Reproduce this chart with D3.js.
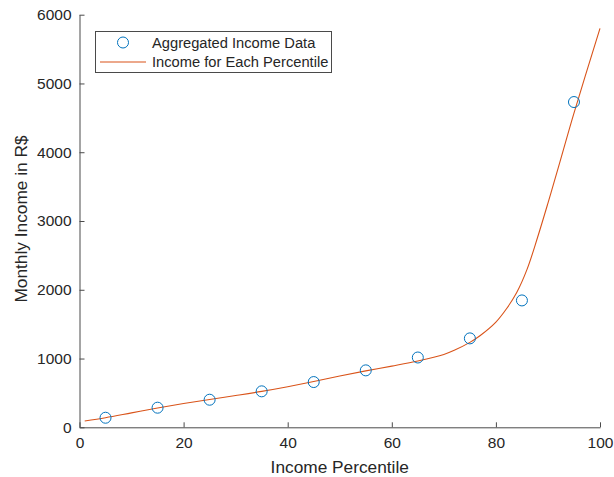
<!DOCTYPE html>
<html>
<head>
  <meta charset="utf-8">
  <script src="https://cdn.jsdelivr.net/npm/d3@7"></script>
  <style>
    body { margin: 0; background: #fff; }
    text { font-family: "Liberation Sans", Arial, sans-serif; fill: #262626; }
  </style>
</head>
<body>
<script>
  "use strict";

  // aggregated data (circles)
  var pctAgg = [5, 15, 25, 35, 45, 55, 65, 75, 85, 95];
  var incAgg = [139, 285, 401, 523, 658, 828, 1015, 1293, 1845, 4730];

  // fitted curve
  var pctFit = [1, 5, 10, 15, 20, 25, 30, 35, 40, 45, 50, 55, 60, 65, 70, 72, 75, 77, 80, 82, 84, 86, 88, 90, 92, 95, 100];
  var incFit = [92, 140, 210, 280, 345, 405, 462, 522, 590, 665, 745, 820, 890, 965, 1060, 1120, 1235, 1335, 1530, 1720, 1960, 2300, 2760, 3260, 3780, 4570, 5800];

  var xTicks = [0, 20, 40, 60, 80, 100];
  var yTicks = [0, 1000, 2000, 3000, 4000, 5000, 6000];

  var W = 614, H = 477;
  var plotL = 79.5, plotR = 600, plotT = 14.7, plotB = 427.3;

  var svg = d3.select("body").append("svg")
      .attr("width", W)
      .attr("height", H);

  var x = d3.scaleLinear().domain([0, 100]).range([plotL, plotR]);
  var y = d3.scaleLinear().domain([0, 6000]).range([plotB, plotT]);

  var axisColor = "#4a4a4a";

  // axes, ticks inside (MATLAB style, box off)
  var gx = svg.append("g").attr("transform", "translate(0," + plotB + ")")
      .call(d3.axisBottom(x).tickValues(xTicks).tickFormat(d3.format("d"))
        .tickSizeInner(-5).tickSizeOuter(0).tickPadding(10));
  var gy = svg.append("g").attr("transform", "translate(" + plotL + ",0)")
      .call(d3.axisLeft(y).tickValues(yTicks).tickFormat(d3.format("d"))
        .tickSizeInner(-5).tickSizeOuter(0).tickPadding(8));

  [gx, gy].forEach(function(g) {
    g.select(".domain").attr("stroke", axisColor);
    g.selectAll(".tick line").attr("stroke", axisColor);
    g.selectAll(".tick text").style("font-size", "15.5px").attr("fill", "#262626");
  });

  svg.append("text")
      .attr("x", (plotL + plotR) / 2).attr("y", 473)
      .attr("text-anchor", "middle")
      .style("font-size", "17.3px")
      .text("Income Percentile");

  svg.append("text")
      .attr("transform", "translate(26.5," + ((plotT + plotB) / 2 - 2) + ") rotate(-90)")
      .attr("text-anchor", "middle")
      .style("font-size", "17.3px")
      .text("Monthly Income in R$");

  var fit = pctFit.map(function(p, i) { return [p, incFit[i]]; });

  var line = d3.line()
      .x(function(d) { return x(d[0]); })
      .y(function(d) { return y(d[1]); })
      .curve(d3.curveCatmullRom.alpha(0.5));

  svg.append("path")
      .datum(fit)
      .attr("d", line)
      .attr("fill", "none")
      .attr("stroke", "#D95319")
      .attr("stroke-width", 1.1);

  svg.selectAll("circle.agg")
      .data(pctAgg)
    .enter().append("circle")
      .attr("class", "agg")
      .attr("cx", function(d) { return x(d); })
      .attr("cy", function(d, i) { return y(incAgg[i]); })
      .attr("r", 5.5)
      .attr("fill", "none")
      .attr("stroke", "#0072BD")
      .attr("stroke-width", 1);

  // legend
  var lg = svg.append("g");
  lg.append("rect")
      .attr("x", 95.5).attr("y", 31.5)
      .attr("width", 236).attr("height", 41)
      .attr("fill", "#fff")
      .attr("stroke", axisColor).attr("stroke-width", 1);
  lg.append("circle")
      .attr("cx", 123).attr("cy", 42.5).attr("r", 5.5)
      .attr("fill", "none").attr("stroke", "#0072BD");
  lg.append("line")
      .attr("x1", 100).attr("x2", 146).attr("y1", 62).attr("y2", 62)
      .attr("stroke", "#D95319").attr("stroke-width", 1.1);
  lg.append("text").attr("x", 152).attr("y", 48.3)
      .style("font-size", "14.7px").text("Aggregated Income Data");
  lg.append("text").attr("x", 152).attr("y", 67.3)
      .style("font-size", "14.7px").text("Income for Each Percentile");
</script>
</body>
</html>
